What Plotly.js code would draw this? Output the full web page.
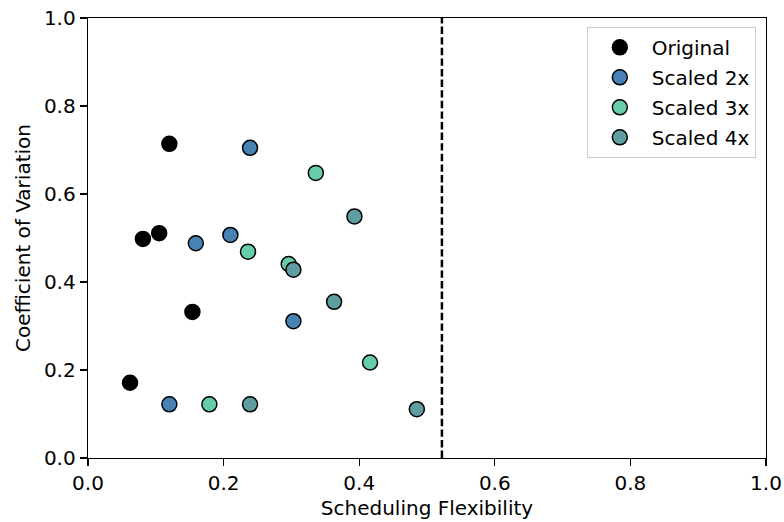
<!DOCTYPE html>
<html>
<head>
<meta charset="utf-8">
<script src="https://cdn.plot.ly/plotly-3.0.1.min.js"></script>
<style>html,body{margin:0;padding:0;background:#fff;}#chart{width:784px;height:522px;}</style>
</head>
<body>
<div id="chart"></div>
<script>
const seriesNames = ["Original", "Scaled 2x", "Scaled 3x", "Scaled 4x"];
const seriesColors = ["#000000", "#4682B4", "#66CDAA", "#5F9EA0"];
const originalX = [0.062, 0.081, 0.105, 0.120, 0.154];
const originalY = [0.171, 0.498, 0.511, 0.714, 0.332];
const scaled2X = [0.120, 0.159, 0.210, 0.239, 0.303];
const scaled2Y = [0.122, 0.488, 0.507, 0.705, 0.311];
const scaled3X = [0.179, 0.236, 0.296, 0.336, 0.416];
const scaled3Y = [0.122, 0.469, 0.441, 0.648, 0.217];
const scaled4X = [0.239, 0.303, 0.363, 0.393, 0.485];
const scaled4Y = [0.122, 0.428, 0.355, 0.549, 0.111];
const thresholdX = 0.522;
const tickVals = [0, 0.2, 0.4, 0.6, 0.8, 1.0];
const tickText = ["0.0", "0.2", "0.4", "0.6", "0.8", "1.0"];

const xs = [originalX, scaled2X, scaled3X, scaled4X];
const ys = [originalY, scaled2Y, scaled3Y, scaled4Y];

const traces = seriesNames.map((name, i) => ({
  type: 'scatter', mode: 'markers', name: name,
  x: xs[i], y: ys[i], legendgroup: 'g' + i,
  marker: {size: 15, color: seriesColors[i], line: {color: '#000', width: 1.5}}
}));
traces.push({
  type: 'scatter', mode: 'lines', x: [thresholdX, thresholdX], y: [0, 1],
  line: {color: '#000', width: 2.5, dash: '7.4px,3.2px'},
  showlegend: false, hoverinfo: 'skip'
});

const font = {family: 'DejaVu Sans, sans-serif', size: 20, color: '#000'};
const axisCommon = {
  range: [0, 1], tickvals: tickVals, ticktext: tickText,
  ticks: 'outside', ticklen: 7, tickwidth: 1.3, tickcolor: '#000',
  showline: true, linecolor: '#000', linewidth: 1.3, mirror: true,
  showgrid: false, zeroline: false, tickfont: font
};
const layout = {
  width: 784, height: 522,
  margin: {l: 88, r: 18, t: 18, b: 64},
  paper_bgcolor: '#fff', plot_bgcolor: '#fff',
  font: font,
  showlegend: true,
  xaxis: Object.assign({}, axisCommon, {title: {text: 'Scheduling Flexibility', font: font, standoff: 6}}),
  yaxis: Object.assign({}, axisCommon, {title: {text: 'Coefficient of Variation', font: font, standoff: 8}}),
  legend: {
    x: 0.985, y: 0.98, xanchor: 'right', yanchor: 'top',
    bordercolor: '#cccccc', borderwidth: 1, bgcolor: 'rgba(255,255,255,0.8)',
    font: font, traceorder: 'grouped', tracegroupgap: 1,
    itemsizing: 'trace', itemwidth: 54
  }
};
Plotly.newPlot('chart', traces, layout, {displayModeBar: false, staticPlot: true});
</script>
</body>
</html>
